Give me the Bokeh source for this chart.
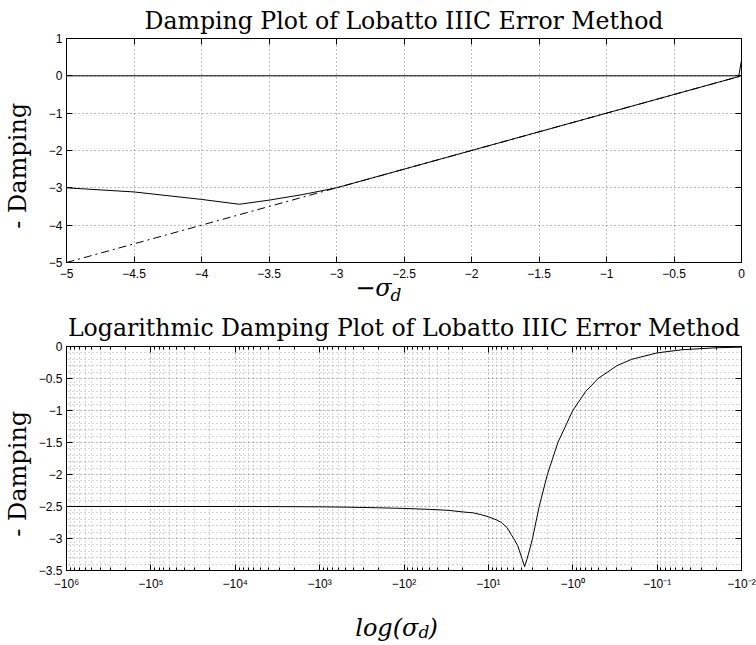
import math
from bokeh.plotting import figure
from bokeh.models import (Range1d, FixedTicker, LinearAxis, LogAxis,
                          CustomJSTickFormatter)
from bokeh.core.properties import value
from bokeh.layouts import column
from bokeh.embed import file_html
from bokeh.resources import INLINE

# ---------------- data ----------------
sigma = [1e6, 1e5, 1e4, 3e3, 1e3, 500, 200, 100, 50, 30, 20, 15, 12, 10, 8, 7, 6,
         5.35, 5.0, 4.5, 4.0, 3.72, 3.5, 3.25, 3.0, 2.5, 2.0, 1.5, 1.0, 0.7, 0.5,
         0.3, 0.2, 0.1, 0.05, 0.02, 0.01]
neg_damping = [-2.5, -2.5, -2.5, -2.502, -2.505, -2.51, -2.52, -2.53, -2.545, -2.56,
               -2.585, -2.60, -2.63, -2.66, -2.71, -2.75, -2.83, -2.94, -3.0, -3.11,
               -3.31, -3.44, -3.33, -3.18, -3.0, -2.5, -2.0, -1.5, -1.0, -0.7, -0.5,
               -0.3, -0.2, -0.1, -0.05, -0.02, -0.01]
edge_x = [-0.02, 0.0]
edge_y = [0.0, 0.42]
zero_x = [-5.0, 0.0]
zero_y = [0.0, 0.0]
ref_x = [-5.0, 0.0]
ref_y = [-5.0, 0.0]

top_xticks = [-5, -4.5, -4, -3.5, -3, -2.5, -2, -1.5, -1, -0.5, 0]
top_yticks = [-5, -4, -3, -2, -1, 0, 1]
bot_xticks = [1e6, 1e5, 1e4, 1e3, 1e2, 1e1, 1e0, 1e-1, 1e-2]
bot_yticks = [0, -0.5, -1, -1.5, -2, -2.5, -3, -3.5]

title_top = "Damping Plot of Lobatto IIIC Error Method"
title_bot = "Logarithmic Damping Plot of Lobatto IIIC Error Method"
NBSP = "\u00a0"
ylabel = "- Damping" + NBSP * 4
xlabel_top = "\u2212\u03c3" + NBSP * 8      # padding shifts the centred label left
xlabel_top_sub = "d" + NBSP * 3

SERIF = "DejaVu Serif"
SANS = "Liberation Sans"
TICK_FS = "12px"
TITLE_FS = "23.6px"
W = 756
LB, RB = 64, 15   # left / right borders shared by every row of the column

lin_fmt = CustomJSTickFormatter(code="""
const v = Math.round(tick*100)/100;
return (v < 0 ? "\u2212" : "") + Math.abs(v).toString();
""")
log_fmt = CustomJSTickFormatter(code="""
const e = Math.round(Math.log10(tick));
const sup = {"0":"\u2070","1":"\u00b9","2":"\u00b2","3":"\u00b3","4":"\u2074","5":"\u2075","6":"\u2076","7":"\u2077","8":"\u2078","9":"\u2079","-":"\u207b"};
let s = "";
for (const c of String(e)) s += sup[c];
return "\u221210" + s;
""")


def empty_fmt():
    return CustomJSTickFormatter(code="return '';")


def style_axis(ax):
    ax.major_tick_in = 6
    ax.major_tick_out = 0
    ax.minor_tick_in = 0
    ax.minor_tick_out = 0
    ax.axis_line_color = "black"
    ax.axis_line_width = 1
    ax.major_tick_line_color = "black"
    ax.minor_tick_line_color = "black"
    ax.major_label_text_font = SANS
    ax.major_label_text_font_size = TICK_FS
    ax.major_label_text_color = "black"


def style_ylabel(ax, standoff):
    ax.axis_label = ylabel
    ax.axis_label_text_font = SERIF
    ax.axis_label_text_font_size = "24px"
    ax.axis_label_text_font_style = "normal"
    ax.axis_label_text_color = "black"
    ax.axis_label_standoff = standoff


def style_title(p, text, standoff, offset):
    p.title.text = text
    p.title.align = "center"
    p.title.text_font = SERIF
    p.title.text_font_size = TITLE_FS
    p.title.text_font_style = "normal"
    p.title.text_color = "black"
    p.title.standoff = standoff
    p.title.offset = offset


def strip(height):
    # x data = canvas pixel column, y data = pixel row inside the strip
    s = figure(width=W, height=height, x_range=Range1d(LB, W - RB),
               y_range=Range1d(height, 0), output_backend="svg",
               toolbar_location=None, title=None,
               min_border_left=LB, min_border_right=RB,
               min_border_top=0, min_border_bottom=0,
               x_axis_location=None, y_axis_location=None,
               background_fill_color="white", border_fill_color="white")
    s.outline_line_color = None
    s.grid.visible = False
    return s


# ---------------- top figure (canvas rows 0..307) ----------------
p1 = figure(width=W, height=307, x_range=Range1d(-5, 0), y_range=Range1d(-5, 1),
            output_backend="svg", toolbar_location=None,
            min_border_left=LB, min_border_right=RB, min_border_top=37,
            min_border_bottom=45, background_fill_color="white",
            border_fill_color="white")
style_title(p1, title_top, 8, 4)
p1.outline_line_color = "black"
p1.xaxis.ticker = FixedTicker(ticks=top_xticks)
p1.yaxis.ticker = FixedTicker(ticks=top_yticks)
p1.xaxis.formatter = lin_fmt
p1.yaxis.formatter = lin_fmt
style_axis(p1.xaxis[0])
style_axis(p1.yaxis[0])
style_ylabel(p1.yaxis[0], 14)
p1.xaxis.major_label_standoff = 6
p1.yaxis.major_label_standoff = 4
p1.xaxis.axis_label = xlabel_top
p1.xaxis.axis_label_text_font = SERIF
p1.xaxis.axis_label_text_font_size = "24px"
p1.xaxis.axis_label_text_font_style = "italic"
p1.xaxis.axis_label_text_color = "black"
p1.xaxis.axis_label_standoff = -7
for g in (p1.xgrid[0], p1.ygrid[0]):
    g.grid_line_color = "black"
    g.grid_line_alpha = 0.5
    g.grid_line_dash = "1 3"
    g.grid_line_width = 1

# subscript "d" of the x label: a tick-less axis stacked under the x axis
ax_sub = LinearAxis(ticker=FixedTicker(ticks=[]), axis_label=xlabel_top_sub)
ax_sub.axis_line_color = None
ax_sub.major_tick_in = 0
ax_sub.major_tick_out = 0
ax_sub.minor_tick_in = 0
ax_sub.minor_tick_out = 0
ax_sub.major_label_standoff = 0
ax_sub.axis_label_text_font = SERIF
ax_sub.axis_label_text_font_size = "17px"
ax_sub.axis_label_text_font_style = "italic"
ax_sub.axis_label_text_color = "black"
ax_sub.axis_label_standoff = -20
p1.add_layout(ax_sub, "below")

ax_top = LinearAxis(ticker=FixedTicker(ticks=top_xticks), formatter=empty_fmt())
style_axis(ax_top)
ax_top.major_label_standoff = 0
p1.add_layout(ax_top, "above")
ax_right = LinearAxis(ticker=FixedTicker(ticks=top_yticks), formatter=empty_fmt())
style_axis(ax_right)
ax_right.major_label_standoff = 0
p1.add_layout(ax_right, "right")

x_top = [-s for s in sigma]
p1.line(zero_x, zero_y, line_color="black", line_width=1)
p1.line(ref_x, ref_y, line_color="black", line_width=1, line_dash="8 4 2 4")
p1.line(x_top, neg_damping, line_color="black", line_width=1)
p1.line(edge_x, edge_y, line_color="black", line_width=1)

# ---------------- bottom figure (rows 307..600) ----------------
p2 = figure(width=W, height=293, x_axis_type="log",
            x_range=Range1d(1e6, 1e-2), y_range=Range1d(-3.5, 0),
            output_backend="svg", toolbar_location=None,
            min_border_left=LB, min_border_right=RB, min_border_top=39,
            min_border_bottom=30, background_fill_color="white",
            border_fill_color="white")
style_title(p2, title_bot, 9, -10)
p2.outline_line_color = "black"
minor_x = [k * 10.0 ** n for n in range(-2, 6) for k in range(2, 10)]
minor_y = [-0.1 * i for i in range(36) if i % 5]
p2.xaxis.ticker = FixedTicker(ticks=bot_xticks, minor_ticks=minor_x)
p2.yaxis.ticker = FixedTicker(ticks=bot_yticks, minor_ticks=minor_y)
p2.xaxis.formatter = log_fmt
p2.yaxis.formatter = lin_fmt
style_axis(p2.xaxis[0])
style_axis(p2.yaxis[0])
style_ylabel(p2.yaxis[0], 4)
p2.xaxis.minor_tick_in = 3
p2.xaxis.major_label_standoff = 6
p2.yaxis.major_label_standoff = 4
for g in (p2.xgrid[0], p2.ygrid[0]):
    g.grid_line_color = "black"
    g.grid_line_alpha = 0.5
    g.grid_line_dash = "1 3"
    g.grid_line_width = 1
    g.minor_grid_line_color = "black"
    g.minor_grid_line_alpha = 0.35
    g.minor_grid_line_dash = "1 3"
    g.minor_grid_line_width = 1

ax_top2 = LogAxis(ticker=FixedTicker(ticks=bot_xticks, minor_ticks=minor_x),
                  formatter=empty_fmt())
style_axis(ax_top2)
ax_top2.minor_tick_in = 3
ax_top2.major_label_standoff = 0
p2.add_layout(ax_top2, "above")
ax_right2 = LinearAxis(ticker=FixedTicker(ticks=bot_yticks), formatter=empty_fmt())
style_axis(ax_right2)
ax_right2.major_label_standoff = 0
p2.add_layout(ax_right2, "right")

p2.line(sigma, neg_damping, line_color="black", line_width=1)

# ---------------- x label strip of the bottom plot (rows 600..645) ----------------
s2 = strip(45)
s2.text(x=[417], y=[27], text=["log(\u03c3"], text_font=value(SERIF),
        text_font_size="24px", text_font_style="italic", text_align="right",
        text_baseline="alphabetic", text_color="black")
s2.text(x=[417], y=[31], text=["d"], text_font=value(SERIF),
        text_font_size="17px", text_font_style="italic", text_align="left",
        text_baseline="alphabetic", text_color="black")
s2.text(x=[427], y=[27], text=[")"], text_font=value(SERIF),
        text_font_size="24px", text_font_style="italic", text_align="left",
        text_baseline="alphabetic", text_color="black")

layout = column(p1, p2, s2, spacing=0)
open("out.html", "w").write(file_html(layout, INLINE))
